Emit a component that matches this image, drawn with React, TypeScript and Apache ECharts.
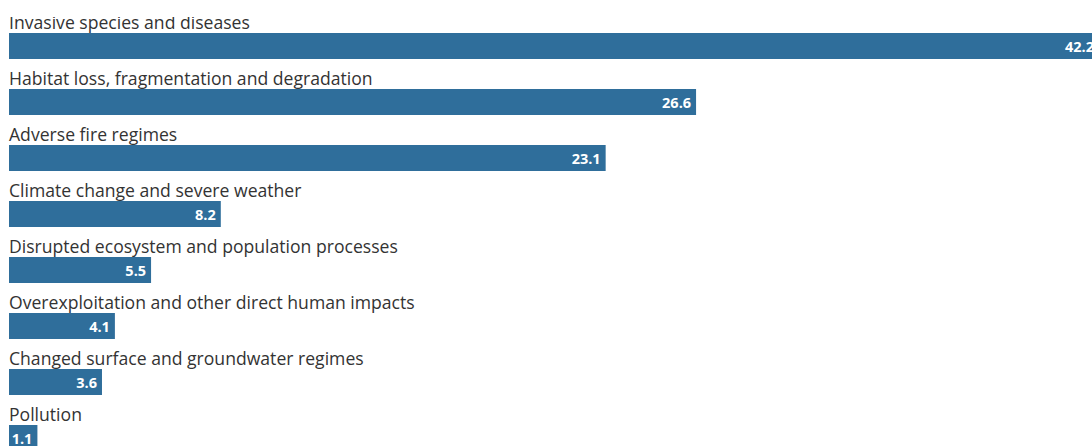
import React, { useEffect, useRef } from "react";
import * as echarts from "echarts";

const categories = [
  "Invasive species and diseases",
  "Habitat loss, fragmentation and degradation",
  "Adverse fire regimes",
  "Climate change and severe weather",
  "Disrupted ecosystem and population processes",
  "Overexploitation and other direct human impacts",
  "Changed surface and groundwater regimes",
  "Pollution",
];
const values = [42.2, 26.6, 23.1, 8.2, 5.5, 4.1, 3.6, 1.1];

const BAR_COLOR = "#2f6e9b";
const TEXT_COLOR = "#333333";
const FONT = "'Open Sans', 'Noto Sans', sans-serif";

export default function App() {
  const ref = useRef<HTMLDivElement>(null);
  useEffect(() => {
    if (!ref.current) return;
    const chart = echarts.init(ref.current, null, { renderer: "svg" });
    chart.setOption({
      animation: false,
      backgroundColor: "#ffffff",
      grid: { left: 9, top: 18, right: 0, bottom: 0, containLabel: false },
      xAxis: { type: "value", min: 0, max: 42.2, show: false },
      yAxis: {
        type: "category",
        data: categories,
        inverse: true,
        show: false,
      },
      graphic: [
        {
          type: "rect",
          left: 0,
          top: 0,
          z: 100,
          silent: true,
          shape: { width: 1100, height: 17 },
          style: { fill: "#ffffff" },
        },
      ],
      series: [
        {
          type: "bar",
          data: values,
          barWidth: 26,
          itemStyle: { color: BAR_COLOR },
          label: {
            show: true,
            position: "insideRight",
            distance: 5,
            color: "#ffffff",
            fontWeight: "bold",
            fontSize: 14.5,
            fontFamily: FONT,
            formatter: (p: any) => p.value.toFixed(1),
          },
          silent: true,
        },
        {
          type: "bar",
          data: values,
          barWidth: 26,
          barGap: "-100%",
          itemStyle: { color: "rgba(0,0,0,0)" },
          label: {
            show: true,
            position: [0, -2],
            align: "left",
            verticalAlign: "bottom",
            color: TEXT_COLOR,
            fontSize: 17.6,
            fontFamily: FONT,
            formatter: (p: any) => p.name,
          },
          silent: true,
        },
      ],
    });
    return () => chart.dispose();
  }, []);
  return (
    <div
      style={{
        position: "absolute",
        left: 0,
        top: 0,
        width: 1092,
        height: 446,
        overflow: "hidden",
        background: "#ffffff",
      }}
    >
      <div ref={ref} style={{ width: 1099, height: 466 }} />
    </div>
  );
}
